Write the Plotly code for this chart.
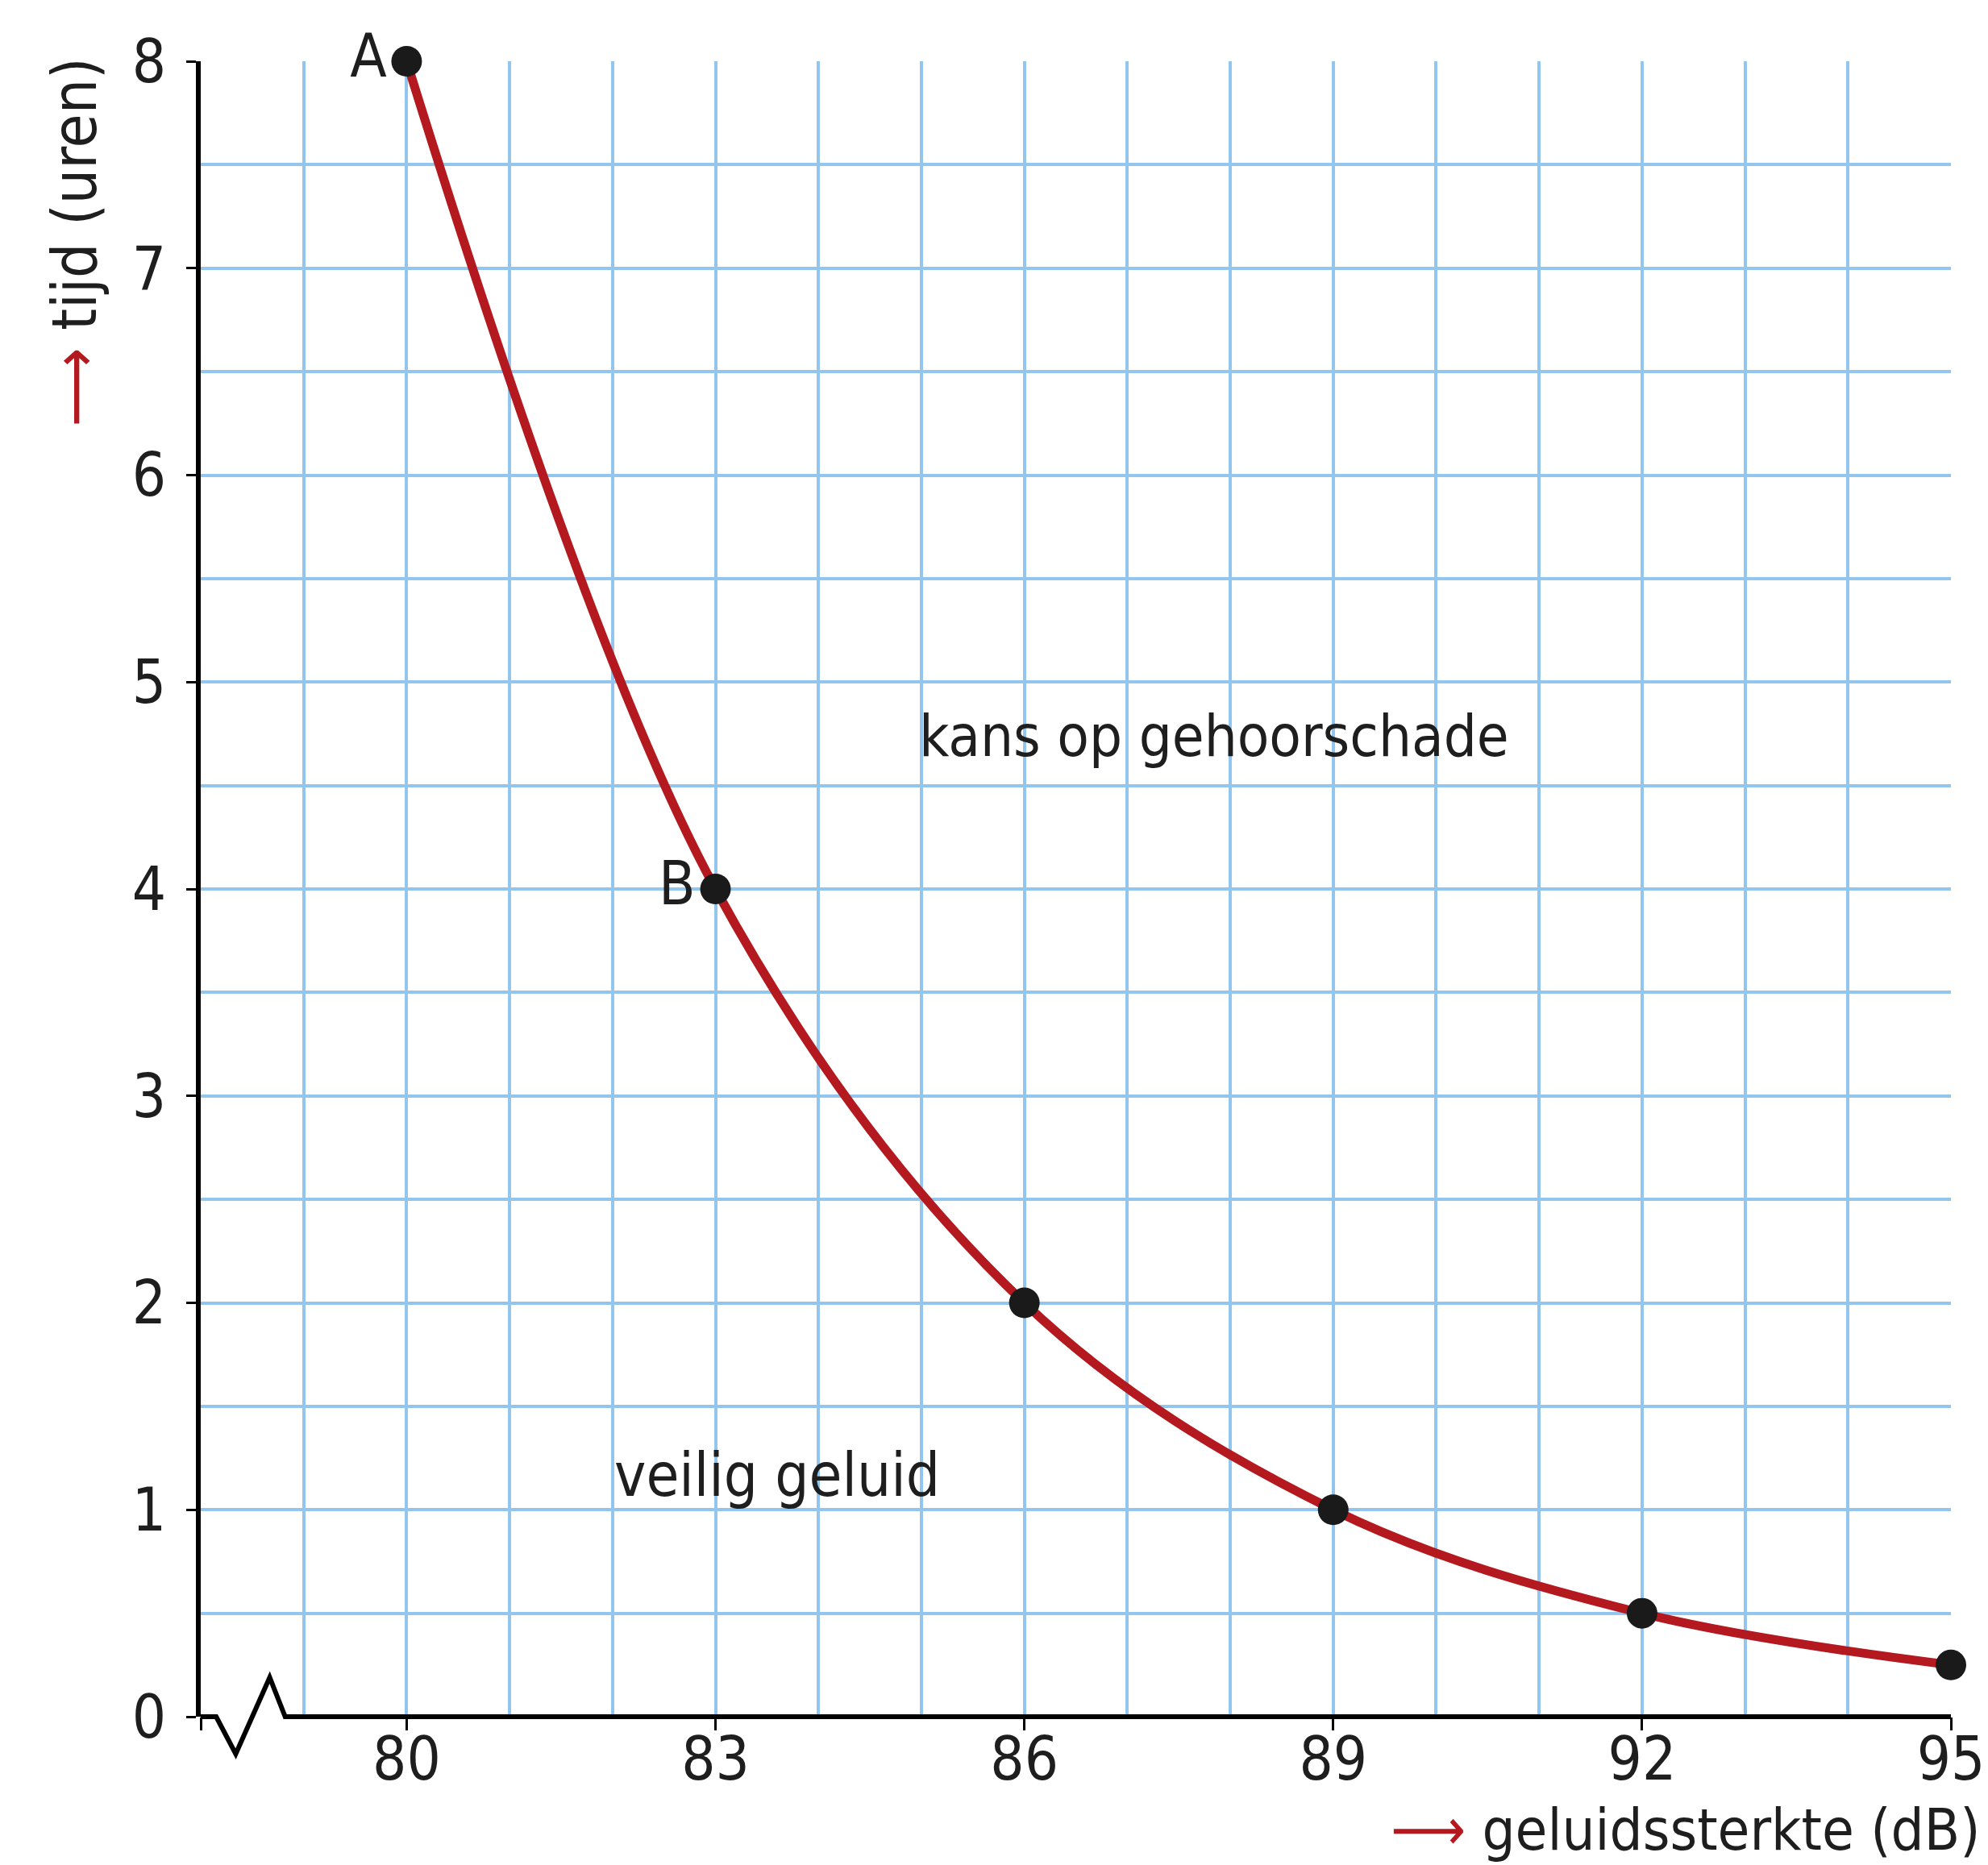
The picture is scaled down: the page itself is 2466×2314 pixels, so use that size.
import plotly.graph_objects as go

# data
geluid_db = [80, 83, 86, 89, 92, 95]
tijd_uren = [8, 4, 2, 1, 0.5, 0.25]
punt_labels = ["A", "B", "", "", "", ""]
x_tickvals = [78, 80, 83, 86, 89, 92, 95]
x_ticktext = ["", "80", "83", "86", "89", "92", "95"]
y_tickvals = [0, 1, 2, 3, 4, 5, 6, 7, 8]
y_ticktext = ["0", "1", "2", "3", "4", "5", "6", "7", "8"]
X_MIN, X_MAX = 78, 95
Y_MIN, Y_MAX = 0, 8

FONT = "DejaVu Sans Condensed, Liberation Sans Narrow, DejaVu Sans, sans-serif"
TXT = "#1e1e1e"
RED = "#b3191e"
GRID = "#92c6ee"

fig = go.Figure()
fig.add_trace(go.Scatter(
    x=geluid_db, y=tijd_uren, mode="lines",
    line=dict(color=RED, width=11, shape="spline", smoothing=1.0),
    hoverinfo="skip", showlegend=False))
fig.add_trace(go.Scatter(
    x=geluid_db, y=tijd_uren, mode="markers+text",
    marker=dict(color="#1a1a1a", size=38),
    text=punt_labels, textposition="middle left",
    textfont=dict(family=FONT, size=74, color=TXT),
    cliponaxis=False, showlegend=False))

def fx(v):
    return (v - X_MIN) / (X_MAX - X_MIN)

def fy(v):
    return (v - Y_MIN) / (Y_MAX - Y_MIN)

# x-axis line with break symbol
brk = [(78.0, 0), (78.15, 0), (78.34, -0.18), (78.67, 0.19), (78.82, 0), (95.0, 0)]
path = "M " + " L ".join(f"{fx(a):.5f},{fy(b):.5f}" for a, b in brk)
fig.add_shape(type="path", path=path, xref="x domain", yref="y domain",
              line=dict(color="black", width=6))

fig.add_annotation(x=87.84, y=4.74, text="kans op gehoorschade", showarrow=False,
                   font=dict(family=FONT, size=72, color=TXT))
fig.add_annotation(x=83.6, y=1.17, text="veilig geluid", showarrow=False,
                   font=dict(family=FONT, size=74, color=TXT))
fig.add_annotation(x=-0.072, y=1.003, xref="paper", yref="paper", textangle=-90,
                   xanchor="center", yanchor="top", showarrow=False,
                   text=f"<span style='color:{RED}'>⟶</span> tijd (uren)",
                   font=dict(family=FONT, size=76, color=TXT))
fig.add_annotation(x=1.0175, y=-0.068, xref="paper", yref="paper",
                   xanchor="right", yanchor="middle", showarrow=False,
                   text=f"<span style='color:{RED}'>⟶</span> geluidssterkte (dB)",
                   font=dict(family=FONT, size=72, color=TXT))

fig.update_layout(
    width=2466, height=2314,
    margin=dict(l=241, r=47, t=68, b=192),
    paper_bgcolor="white", plot_bgcolor="white",
    font=dict(family=FONT, size=72, color=TXT),
    xaxis=dict(range=[X_MIN, X_MAX], tickvals=x_tickvals, ticktext=x_ticktext,
               showgrid=True, gridcolor=GRID, gridwidth=4,
               minor=dict(tick0=78, dtick=1, showgrid=True, gridcolor=GRID, gridwidth=4),
               showline=False, zeroline=False,
               ticks="outside", ticklen=16, tickwidth=3, tickcolor="black",
               ticklabelstandoff=-28,
               tickfont=dict(family=FONT, size=74, color=TXT)),
    yaxis=dict(range=[Y_MIN, Y_MAX], tickvals=y_tickvals, ticktext=y_ticktext,
               showgrid=True, gridcolor=GRID, gridwidth=4,
               minor=dict(tick0=0, dtick=0.5, showgrid=True, gridcolor=GRID, gridwidth=4),
               showline=True, linecolor="black", linewidth=6, zeroline=False,
               ticks="outside", ticklen=12, tickwidth=3, tickcolor="black",
               ticklabelstandoff=10,
               tickfont=dict(family=FONT, size=74, color=TXT)),
)

fig.write_html("out.html")
